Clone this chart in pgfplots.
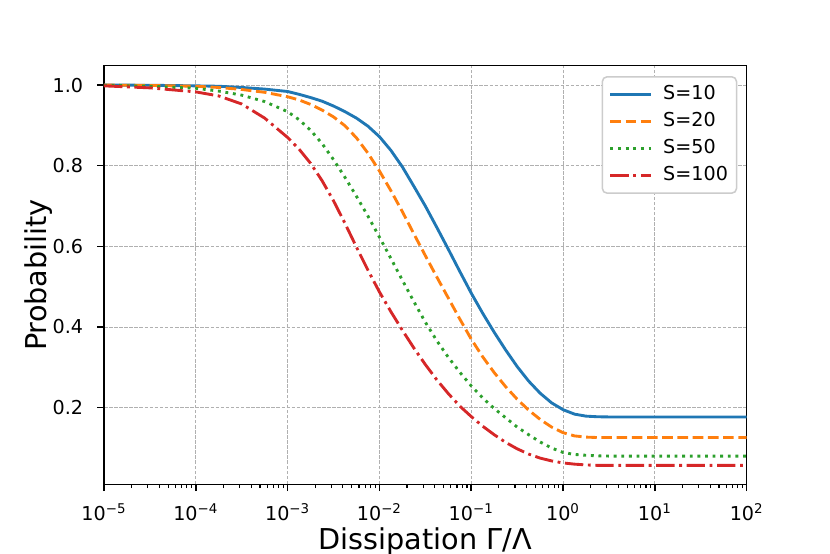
\documentclass[border=0pt]{standalone}
\usepackage{pgfplots}
\usepackage{pgfplotstable}
\pgfplotsset{compat=1.18}
\usepackage{fontspec}
\setmainfont{DejaVu Sans}
\definecolor{tabblue}{HTML}{1F77B4}
\definecolor{taborange}{HTML}{FF7F0E}
\definecolor{tabgreen}{HTML}{2CA02C}
\definecolor{tabred}{HTML}{D62728}
\definecolor{gridgray}{HTML}{B0B0B0}
\pgfplotstableread{
x        b      o      g      r
1e-5     1.000  1.000  0.9995 0.998
3.1623e-5 0.9995 0.999 0.997  0.993
1e-4     0.998  0.997  0.992  0.983
1.7783e-4 0.997 0.994  0.985  0.973
3.1623e-4 0.994 0.989  0.975  0.953
5.6234e-4 0.990 0.982  0.959  0.918
1e-3     0.984  0.971  0.934  0.870
1.3335e-3 0.977 0.963  0.914  0.841
1.7783e-3 0.969 0.952  0.888  0.806
2.3714e-3 0.960 0.938  0.855  0.763
3.1623e-3 0.948 0.921  0.815  0.713
4.2170e-3 0.934 0.899  0.771  0.657
5.6234e-3 0.918 0.869  0.724  0.598
7.4989e-3 0.898 0.831  0.675  0.541
1e-2     0.872  0.787  0.623  0.487
1.3335e-2 0.838 0.738  0.570  0.438
1.7783e-2 0.797 0.686  0.516  0.392
2.3714e-2 0.749 0.631  0.463  0.348
3.1623e-2 0.700 0.577  0.412  0.307
4.2170e-2 0.647 0.524  0.366  0.269
5.6234e-2 0.593 0.472  0.325  0.235
7.4989e-2 0.538 0.420  0.288  0.204
0.1      0.484  0.370  0.254  0.178
0.13335  0.434  0.326  0.224  0.154
0.17783  0.387  0.287  0.198  0.133
0.23714  0.343  0.252  0.175  0.114
0.31623  0.302  0.221  0.152  0.098
0.42170  0.266  0.194  0.133  0.085
0.56234  0.236  0.171  0.115  0.075
0.74989  0.212  0.152  0.100  0.068
1        0.195  0.138  0.089  0.063
1.3335   0.184  0.130  0.084  0.060
1.7783   0.179  0.127  0.082  0.058
2.3714   0.1775 0.126  0.0805 0.057
3.1623   0.177  0.126  0.080  0.057
10       0.177  0.126  0.080  0.057
31.623   0.177  0.126  0.080  0.057
100      0.177  0.126  0.080  0.057
}\data
\begin{document}
\begin{tikzpicture}
\begin{axis}[
  scale only axis,
  width=335.76pt, height=218.69pt,
  xmode=log,
  xmin=1e-5, xmax=1e2,
  ymin=0.01, ymax=1.048,
  axis line style={line width=0.8pt},
  tick align=outside,
  xtick pos=left, ytick pos=left,
  major tick length=3.5pt, minor tick length=2pt,
  every major tick/.style={black, line width=0.8pt},
  every minor tick/.style={black, line width=0.6pt},
  xtick={1e-5,1e-4,1e-3,1e-2,1e-1,1,10,100},
  xticklabels={10\textsuperscript{−5},10\textsuperscript{−4},10\textsuperscript{−3},10\textsuperscript{−2},10\textsuperscript{−1},10\textsuperscript{0},10\textsuperscript{1},10\textsuperscript{2}},
  minor xtick={2e-5,3e-5,4e-5,5e-5,6e-5,7e-5,8e-5,9e-5,
               2e-4,3e-4,4e-4,5e-4,6e-4,7e-4,8e-4,9e-4,
               2e-3,3e-3,4e-3,5e-3,6e-3,7e-3,8e-3,9e-3,
               2e-2,3e-2,4e-2,5e-2,6e-2,7e-2,8e-2,9e-2,
               0.2,0.3,0.4,0.5,0.6,0.7,0.8,0.9,
               2,3,4,5,6,7,8,9,
               20,30,40,50,60,70,80,90},
  ytick={0.2,0.4,0.6,0.8,1.0},
  yticklabels={0.2,0.4,0.6,0.8,1.0},
  ticklabel style={font=\fontsize{10}{12}\selectfont},
  xticklabel style={anchor=base, inner sep=0pt, yshift=-15.15pt},
  yticklabel style={anchor=east, inner sep=0pt, xshift=-7.2pt},
  grid=major,
  major grid style={gridgray, line width=0.5pt, dash pattern=on 1.85pt off 0.8pt},
  xlabel={Dissipation Γ/Λ},
  ylabel={Probability},
  label style={font=\fontsize{15}{18}\selectfont},
  xlabel style={at={(axis description cs:0.5,-0.1546)}, anchor=base},
  ylabel style={at={(axis description cs:-0.089,0.5)}, anchor=base, rotate=0},
  legend style={at={(axis description cs:1,1)}, anchor=north east,
    xshift=-4.9pt, yshift=-5.4pt, draw=black!20, line width=0.8pt, fill=white,
    rounded corners=2.5pt, inner xsep=3.5pt, inner ysep=3.5pt,
    font=\fontsize{10}{12}\selectfont, row sep=2.6pt, column sep=4.8pt,
    nodes={inner xsep=1pt, inner ysep=1pt, text height=7.5pt, text depth=2pt}},
  legend cell align=left,
  legend image code/.code={\draw[#1] (0pt,0pt) -- (21pt,0pt);},
]
\addplot[tabblue, line width=1.5pt, line join=round] table[x=x,y=b]{\data};
\addlegendentry{S=10}
\addplot[taborange, line width=1.5pt, line join=round, dash pattern=on 5.55pt off 2.4pt] table[x=x,y=o]{\data};
\addlegendentry{S=20}
\addplot[tabgreen, line width=1.5pt, line join=round, dash pattern=on 1.5pt off 2.475pt] table[x=x,y=g]{\data};
\addlegendentry{S=50}
\addplot[tabred, line width=1.5pt, line join=round, dash pattern=on 9.6pt off 2.4pt on 1.5pt off 2.4pt] table[x=x,y=r]{\data};
\addlegendentry{S=100}
\end{axis}
\pgfresetboundingbox
\path[use as bounding box] (-54.33pt,-36.41pt) rectangle (379.28pt,253.01pt);
\end{tikzpicture}
\end{document}
